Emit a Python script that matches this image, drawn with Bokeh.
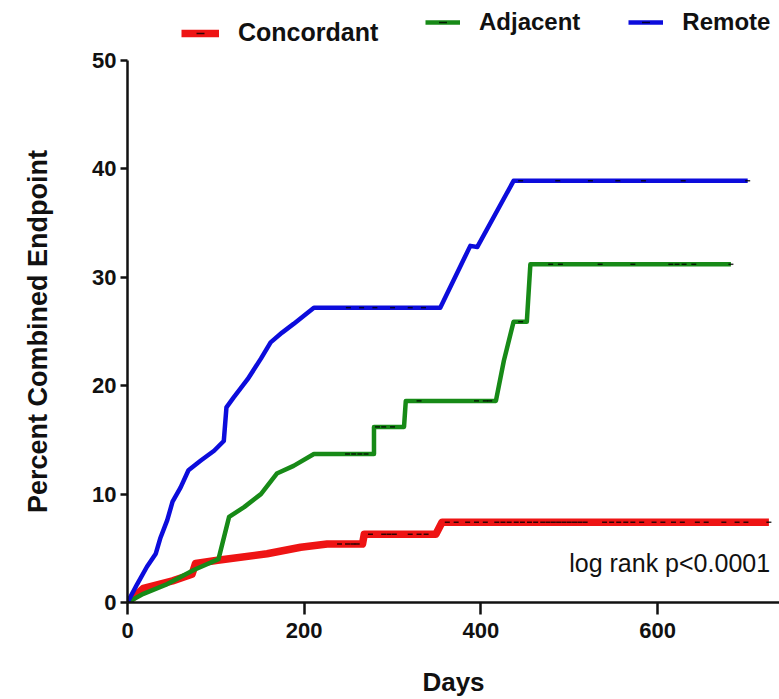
from bokeh.plotting import figure
from bokeh.layouts import column
from bokeh.models import Range1d, Legend, LegendItem, Label, FixedTicker
from bokeh.embed import file_html
from bokeh.resources import INLINE

# ---- data ----
concordant_days = [0, 18, 51, 73, 77, 102, 158, 196, 226, 266, 268, 349, 356, 726]
concordant_pct = [0, 1.3, 2.0, 2.6, 3.6, 3.9, 4.5, 5.1, 5.4, 5.4, 6.3, 6.3, 7.4, 7.4]

adjacent_days = [0, 18, 45, 75, 103, 115, 132, 151, 169, 188, 211, 279, 279, 313, 315,
                 417, 426, 437, 452, 456, 683]
adjacent_pct = [0, 0.8, 1.7, 3.0, 4.0, 7.9, 8.8, 10.0, 11.9, 12.6, 13.7, 13.7, 16.2, 16.2, 18.6,
                18.6, 22.3, 25.9, 25.9, 31.2, 31.2]

remote_days = [0, 11, 22, 32, 37, 45, 51, 60, 69, 83, 98, 109, 112, 120, 136, 151, 162, 175,
               188, 211, 354, 388, 396, 437, 702]
remote_pct = [0, 1.7, 3.3, 4.5, 5.9, 7.6, 9.3, 10.6, 12.2, 13.1, 14.0, 14.9, 18.0, 18.9, 20.6,
              22.5, 24.0, 24.9, 25.7, 27.2, 27.2, 32.9, 32.8, 38.9, 38.9]

# censored observations (tick marks on the curves)
concordant_cens_days = [240, 249, 255, 260, 275, 290, 296, 302, 320, 330, 338,
                        362, 372, 385, 395, 405, 418, 425, 432, 440, 447, 455, 462, 470, 476,
                        482, 488, 494, 500, 506, 512, 518, 540, 548, 556, 564, 572, 582, 596,
                        606, 618, 628, 645, 655, 675, 690, 700, 726]
concordant_cens_pct = [5.4, 5.4, 5.4, 5.4, 6.3, 6.3, 6.3, 6.3, 6.3, 6.3, 6.3,
                       7.4, 7.4, 7.4, 7.4, 7.4, 7.4, 7.4, 7.4, 7.4, 7.4, 7.4, 7.4, 7.4, 7.4,
                       7.4, 7.4, 7.4, 7.4, 7.4, 7.4, 7.4, 7.4, 7.4, 7.4, 7.4, 7.4, 7.4, 7.4,
                       7.4, 7.4, 7.4, 7.4, 7.4, 7.4, 7.4, 7.4, 7.4]
adjacent_cens_days = [249, 256, 263, 270, 283, 290, 300, 330, 395, 405, 410, 445,
                      479, 490, 535, 572, 615, 622, 630, 641, 683]
adjacent_cens_pct = [13.7, 13.7, 13.7, 13.7, 16.2, 16.2, 16.2, 18.6, 18.6, 18.6, 18.6, 25.9,
                     31.2, 31.2, 31.2, 31.2, 31.2, 31.2, 31.2, 31.2, 31.2]
remote_cens_days = [250, 265, 280, 300, 320, 335, 445, 487, 524, 555, 584, 629, 702]
remote_cens_pct = [27.2, 27.2, 27.2, 27.2, 27.2, 27.2, 38.9, 38.9, 38.9, 38.9, 38.9, 38.9, 38.9]

series_names = ["Concordant", "Adjacent", "Remote"]
x_ticks = [0, 200, 400, 600, 800]
y_ticks = [0, 10, 20, 30, 40, 50]
x_label = "Days"
y_label = "Percent Combined Endpoint"
annotation_text = "log rank p<0.0001"
annotation_day = 500
annotation_pct = 3.6

RED = "#ee1414"
GREEN = "#178a17"
BLUE = "#0c0cdc"
FONT = "Liberation Sans"

series = [(concordant_days, concordant_pct, concordant_cens_days, concordant_cens_pct),
          (adjacent_days, adjacent_pct, adjacent_cens_days, adjacent_cens_pct),
          (remote_days, remote_pct, remote_cens_days, remote_cens_pct)]
line_styles = [dict(line_color=RED, line_width=7.5),
               dict(line_color=GREEN, line_width=4.5),
               dict(line_color=BLUE, line_width=4.5)]
cens_style = dict(marker="dash", size=5, line_color="black", line_width=1.5, line_alpha=0.8)

# ---------------- main chart ----------------
p = figure(width=779, height=653, output_backend="svg", toolbar_location=None,
           x_range=Range1d(0, 738), y_range=Range1d(0, 50),
           min_border_left=127, min_border_right=0, min_border_top=14,
           min_border_bottom=97)
p.outline_line_color = None
p.grid.visible = False
p.background_fill_color = "white"
p.border_fill_color = "white"

for (d, v, cd, cv), style in zip(series, line_styles):
    p.line(d, v, line_join="round", **style)
    p.scatter(cd, cv, **cens_style)

for ax in (p.xaxis[0], p.yaxis[0]):
    ax.axis_line_width = 2.5
    ax.axis_line_color = "#111111"
    ax.major_tick_line_width = 2.5
    ax.major_tick_line_color = "#111111"
    ax.major_tick_in = 0
    ax.minor_tick_line_color = None
    ax.major_label_text_font = FONT
    ax.major_label_text_font_style = "bold"
    ax.major_label_text_font_size = "22px"
    ax.major_label_text_color = "#111111"
    ax.axis_label_text_font = FONT
    ax.axis_label_text_font_style = "bold"
    ax.axis_label_text_color = "#111111"

p.xaxis.ticker = FixedTicker(ticks=x_ticks)
p.yaxis.ticker = FixedTicker(ticks=y_ticks)
p.xaxis.major_tick_out = 12
p.yaxis.major_tick_out = 7
p.xaxis.major_label_standoff = 8
p.yaxis.major_label_standoff = 4
p.xaxis.axis_label = x_label
p.yaxis.axis_label = y_label
p.xaxis.axis_label_text_font_size = "26px"
p.yaxis.axis_label_text_font_size = "27px"
p.xaxis.axis_label_standoff = 26
p.yaxis.axis_label_standoff = 36

p.add_layout(Label(x=annotation_day, y=annotation_pct, text=annotation_text,
                   text_font=FONT, text_font_size="25px", text_color="#111111",
                   text_baseline="middle", text_align="left"))

# ---------------- legend strip above the chart ----------------
# same series drawn into a strip whose ranges show none of them: only the key is visible
top = figure(width=779, height=46, output_backend="svg", toolbar_location=None,
             x_range=Range1d(-2, -1), y_range=Range1d(-2, -1),
             x_axis_type=None, y_axis_type=None, min_border=0)
top.outline_line_color = None
top.grid.visible = False
top.background_fill_color = "white"
top.border_fill_color = "white"

key_items = []
for name, (d, v, cd, cv), style in zip(series_names, series, line_styles):
    lr = top.line(d, v, **style)
    sr = top.scatter(cd, cv, **cens_style)
    key_items.append(LegendItem(label=name, renderers=[lr, sr]))

legend_common = dict(orientation="horizontal", padding=0, margin=0,
                     border_line_color=None, background_fill_alpha=0,
                     glyph_height=20, label_standoff=19,
                     label_text_font=FONT, label_text_font_style="bold",
                     label_text_color="#111111")
legend1 = Legend(items=key_items[:1], location=(54, -1), glyph_width=38,
                 label_text_font_size="25px", **legend_common)
legend2 = Legend(items=key_items[1:], location=(298, 10), glyph_width=35, spacing=48,
                 label_text_font_size="24px", **legend_common)
top.add_layout(legend1)
top.add_layout(legend2)

layout = column(top, p, spacing=0)
open("out.html", "w").write(file_html(layout, INLINE))
